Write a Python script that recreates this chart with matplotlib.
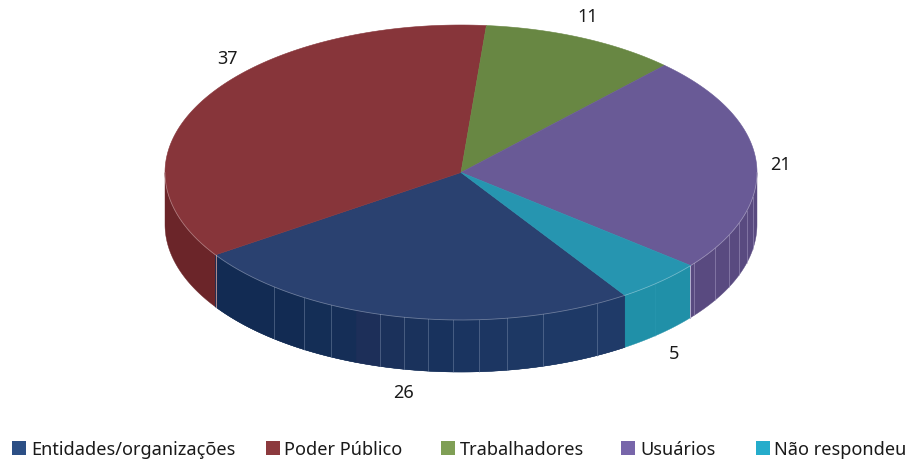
import numpy as np
import matplotlib
matplotlib.use("Agg")
import matplotlib.pyplot as plt
from matplotlib.patches import Polygon, Rectangle

plt.rcParams["font.family"] = ["Noto Sans", "DejaVu Sans"]

categories = ["Entidades/organizações", "Poder Público", "Trabalhadores", "Usuários", "Não respondeu"]
values = [26, 37, 11, 21, 5]
# swept share of the ellipse as drawn, differs a bit from the printed labels
shares = [24.9, 35.8, 10.7, 23.8, 4.8]

TOP = ["#2A4170", "#87353A", "#688743", "#695A96", "#2695B0"]
SIDE = ["#14305A", "#6B2529", "#55702F", "#594A80", "#2090A8"]
LEGEND = ["#2C4F85", "#8C3A3E", "#7F9F55", "#7866AA", "#25ACCB"]

CX, CY, RX, RY, DEPTH = 461, 172.5, 296, 147.5, 52
START = 56.4

label_pos = [(404, 393), (227, 59), (588, 17), (780, 165), (674, 354)]
legend_x = [12, 266, 441, 621, 756]
legend_text_x = [31, 284, 460, 640, 774]
blue_rim_x = [274, 304, 331, 380, 404, 428, 453, 479, 507, 543, 597]
purple_rim_x = [694, 715, 729, 739, 747, 753]
teal_rim_x = [655]


def ell(t, dy=0):
    t = np.radians(t)
    return np.column_stack([CX + RX * np.cos(t), CY + RY * np.sin(t) + dy])


def rim_y(x):
    return CY + RY * np.sqrt(1 - ((x - CX) / RX) ** 2)


def side_patch(ax, a, b, color):
    t = np.linspace(a, b, 60)
    pts = np.vstack([ell(t), ell(t[::-1], DEPTH)])
    ax.add_patch(Polygon(pts, closed=True, fc=color, ec=color, lw=0.3, zorder=2))


fig = plt.figure(figsize=(9.08, 4.59), dpi=100)
ax = fig.add_axes([0, 0, 1, 1])
ax.set_xlim(0, 908)
ax.set_ylim(459, 0)
ax.axis("off")

edges = START + np.cumsum([0] + shares) * 3.6

for i in range(len(values)):
    a, b = edges[i], edges[i + 1]
    # only the front half (0..180 and 360..540) has a visible wall
    for lo, hi in [(0, 180), (360, 540)]:
        aa, bb = max(a, lo), min(b, hi)
        if aa < bb:
            side_patch(ax, aa, bb, SIDE[i])
    t = np.linspace(a, b, 150)
    pts = np.vstack([[CX, CY], ell(t)])
    ax.add_patch(Polygon(pts, closed=True, fc=TOP[i], ec=TOP[i], lw=0.4, zorder=3))

# blue wall gets slightly lighter going right
bx = [597, 543, 507, 479, 453, 428, 404, 380, 356, 331, 304, 274]
bcol = ["#1F3A68", "#1E3966", "#1D3864", "#1C3662", "#1A3460", "#18325D",
        "#1A325C", "#1B315B", "#1D2F59", "#152E57", "#142E56", "#122B53", "#122B53"]
knots = np.concatenate([[edges[0]], np.degrees(np.arccos((np.array(bx) - CX) / RX)), [edges[1]]])
for a, b, c in zip(knots[:-1], knots[1:], bcol):
    side_patch(ax, a, b, c)

# pale seams on the wall
for xs, col, al in [(blue_rim_x, "#8FA0BC", 0.45), (purple_rim_x, "#A79DC4", 0.6), (teal_rim_x, "#35A0B8", 0.3)]:
    for x in xs:
        y = rim_y(x)
        ax.plot([x, x], [y, y + DEPTH], color=col, lw=0.6, alpha=al, zorder=4)
ax.plot([216, 216], [rim_y(216), rim_y(216) + DEPTH], color="#B08A8C", lw=0.7, zorder=4)
ax.plot([690, 690], [rim_y(690), rim_y(690) + DEPTH], color="#B5AECF", lw=0.7, zorder=4)

# pale line along the front top edge
t = np.linspace(0, 180, 200)
ax.plot(*ell(t).T, color="white", lw=0.6, alpha=0.3, zorder=5)

for (x, y), v in zip(label_pos, values):
    ax.text(x, y, str(v), ha="center", va="center", fontsize=13, color="#1a1a1a", zorder=6)

for x, tx, c, name in zip(legend_x, legend_text_x, LEGEND, categories):
    ax.add_patch(Rectangle((x, 441), 14, 14, fc=c, ec="none"))
    ax.text(tx, 455, name, ha="left", va="baseline", fontsize=13.1, color="#1a1a1a")

fig.savefig("out.png", dpi=100)
